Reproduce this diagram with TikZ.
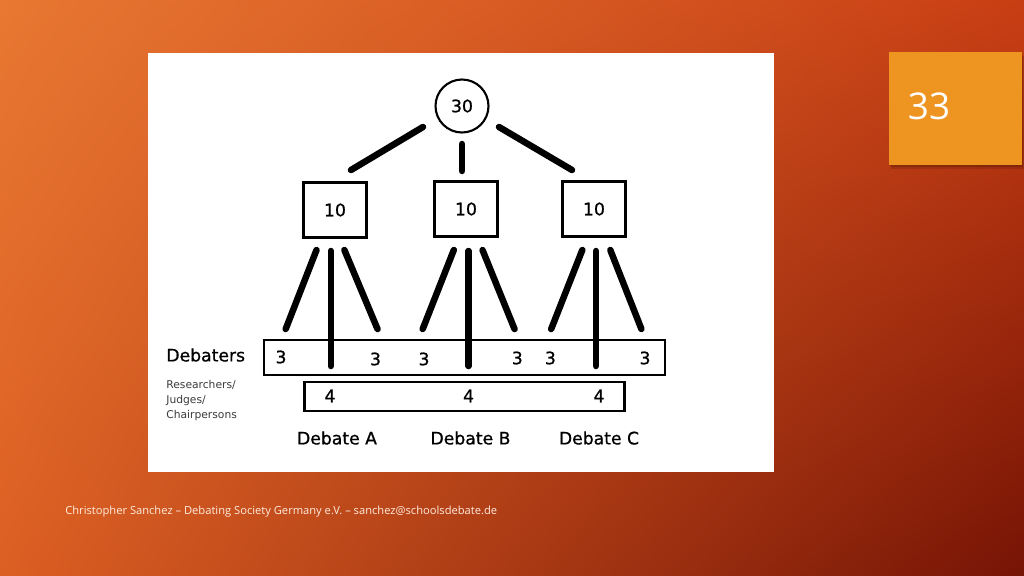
\documentclass[tikz,border=0pt]{standalone}
\usepackage{fontspec}
\setmainfont{Open Sans}
\newfontfamily\diagfont{DejaVu Sans}
\newfontfamily\diagheavy[FakeBold=0.8]{DejaVu Sans}
\usetikzlibrary{positioning, shadings}
\definecolor{slidetl}{RGB}{232,120,50}
\definecolor{slidetr}{RGB}{200,62,20}
\definecolor{slidebl}{RGB}{220,95,35}
\definecolor{slidebr}{RGB}{118,20,5}
\definecolor{pagebox}{RGB}{238,148,32}
\definecolor{footertext}{RGB}{255,236,222}
\definecolor{smallgray}{RGB}{60,60,60}

\begin{document}
\begin{tikzpicture}[x=0.02cm, y=-0.02cm,
    num/.style={font=\diagheavy\fontsize{9.8}{11}\selectfont, inner sep=0pt},
    tally/.style={draw, line width=1.3pt, minimum width=1.26cm, minimum height=1.1cm, num},
    band/.style={draw, line width=1.3pt, inner sep=0pt},
    stick/.style={line width=3.7pt, line cap=round},
    caption/.style={font=\diagheavy\fontsize{9.8}{11}\selectfont, inner sep=0pt}]
    \useasboundingbox (0,0) rectangle (1024,575);

    % Background
    \shade[upper left=slidetl, upper right=slidetr, lower left=slidebl, lower right=slidebr]
        (0,0) rectangle (1024,575);

    % Picture area
    \fill[white] (148,53) rectangle (774,472);

    % Slide number
    \fill[black, opacity=0.12] (891,56) rectangle (1025,169);
    \fill[black, opacity=0.15] (890,54) rectangle (1023,167);
    \fill[pagebox] (889,52) rectangle (1022,165);
    \node[white, font=\fontsize{21}{24}\selectfont] (page) at (929,106) {33};

    % Footer
    \node[anchor=west, footertext, font=\fontsize{6.35}{7}\selectfont, inner sep=0pt] (footer) at (65,512)
        {Christopher Sanchez -- Debating Society Germany e.V. -- sanchez@schoolsdebate.de};

    % Top of the tree
    \node[draw, circle, line width=1.2pt, minimum size=1.06cm, num] (total) at (462,106) {30};

    \node[tally] (dA) at (335,210) {10};
    \node[tally] (dB) at (466,209) {10};
    \node[tally] (dC) at (594,209) {10};

    \coordinate (sA1) at (423,127);
    \coordinate (sA2) at (351,170);
    \coordinate (sB1) at (462,144);
    \coordinate (sB2) at (462,171);
    \coordinate (sC1) at (499,127);
    \coordinate (sC2) at (572,170);
    \draw[stick] (sA1) -- (sA2);
    \draw[stick] (sB1) -- (sB2);
    \draw[stick] (sC1) -- (sC2);

    % Rows
    \node[band, minimum width=8.02cm, minimum height=0.7cm] (debaters) at (464.5,357.5) {};
    \node[band, minimum width=6.4cm, minimum height=0.57cm] (judges) at (464.4,396.5) {};

    % Branches per debate
    \foreach \d/\lt/\lb/\mx/\rt/\rb in {A/316.5/285.7/330.8/344.4/377.5,
                                       B/453.8/422.7/468.6/482.5/514.5,
                                       C/582.3/551.2/595.9/610.3/641.4} {
        \coordinate (\d l1) at (\lt,250);
        \coordinate (\d l2) at (\lb,329);
        \coordinate (\d m1) at (\mx,251);
        \coordinate (\d m2) at (\mx,366);
        \coordinate (\d r1) at (\rt,250);
        \coordinate (\d r2) at (\rb,329);
        \draw[stick] (\d l1) -- (\d l2);
        \draw[stick] (\d m1) -- (\d m2);
        \draw[stick] (\d r1) -- (\d r2);
    }

    % Numbers in the rows
    \node[num] (t1) at (281,357) {3};
    \node[num] (t2) at (375.5,359) {3};
    \node[num] (t3) at (424,359) {3};
    \node[num] (t4) at (517.3,358) {3};
    \node[num] (t5) at (550.4,358) {3};
    \node[num] (t6) at (645,358) {3};

    \node[num] (j1) at (330,396) {4};
    \node[num] (j2) at (468.6,396) {4};
    \node[num] (j3) at (599,396) {4};

    % Labels
    \node[anchor=west, caption] (lbdeb) at (166,355) {Debaters};
    \node[anchor=north west, align=left, smallgray, inner sep=0pt,
          font=\diagfont\fontsize{6.1}{8.5}\selectfont] (lbjud) at (166,380)
        {Researchers/\\Judges/\\Chairpersons};

    \node[caption] (capA) at (337,438) {Debate A};
    \node[caption] (capB) at (470.5,438) {Debate B};
    \node[caption] (capC) at (599,438) {Debate C};
\end{tikzpicture}
\end{document}
